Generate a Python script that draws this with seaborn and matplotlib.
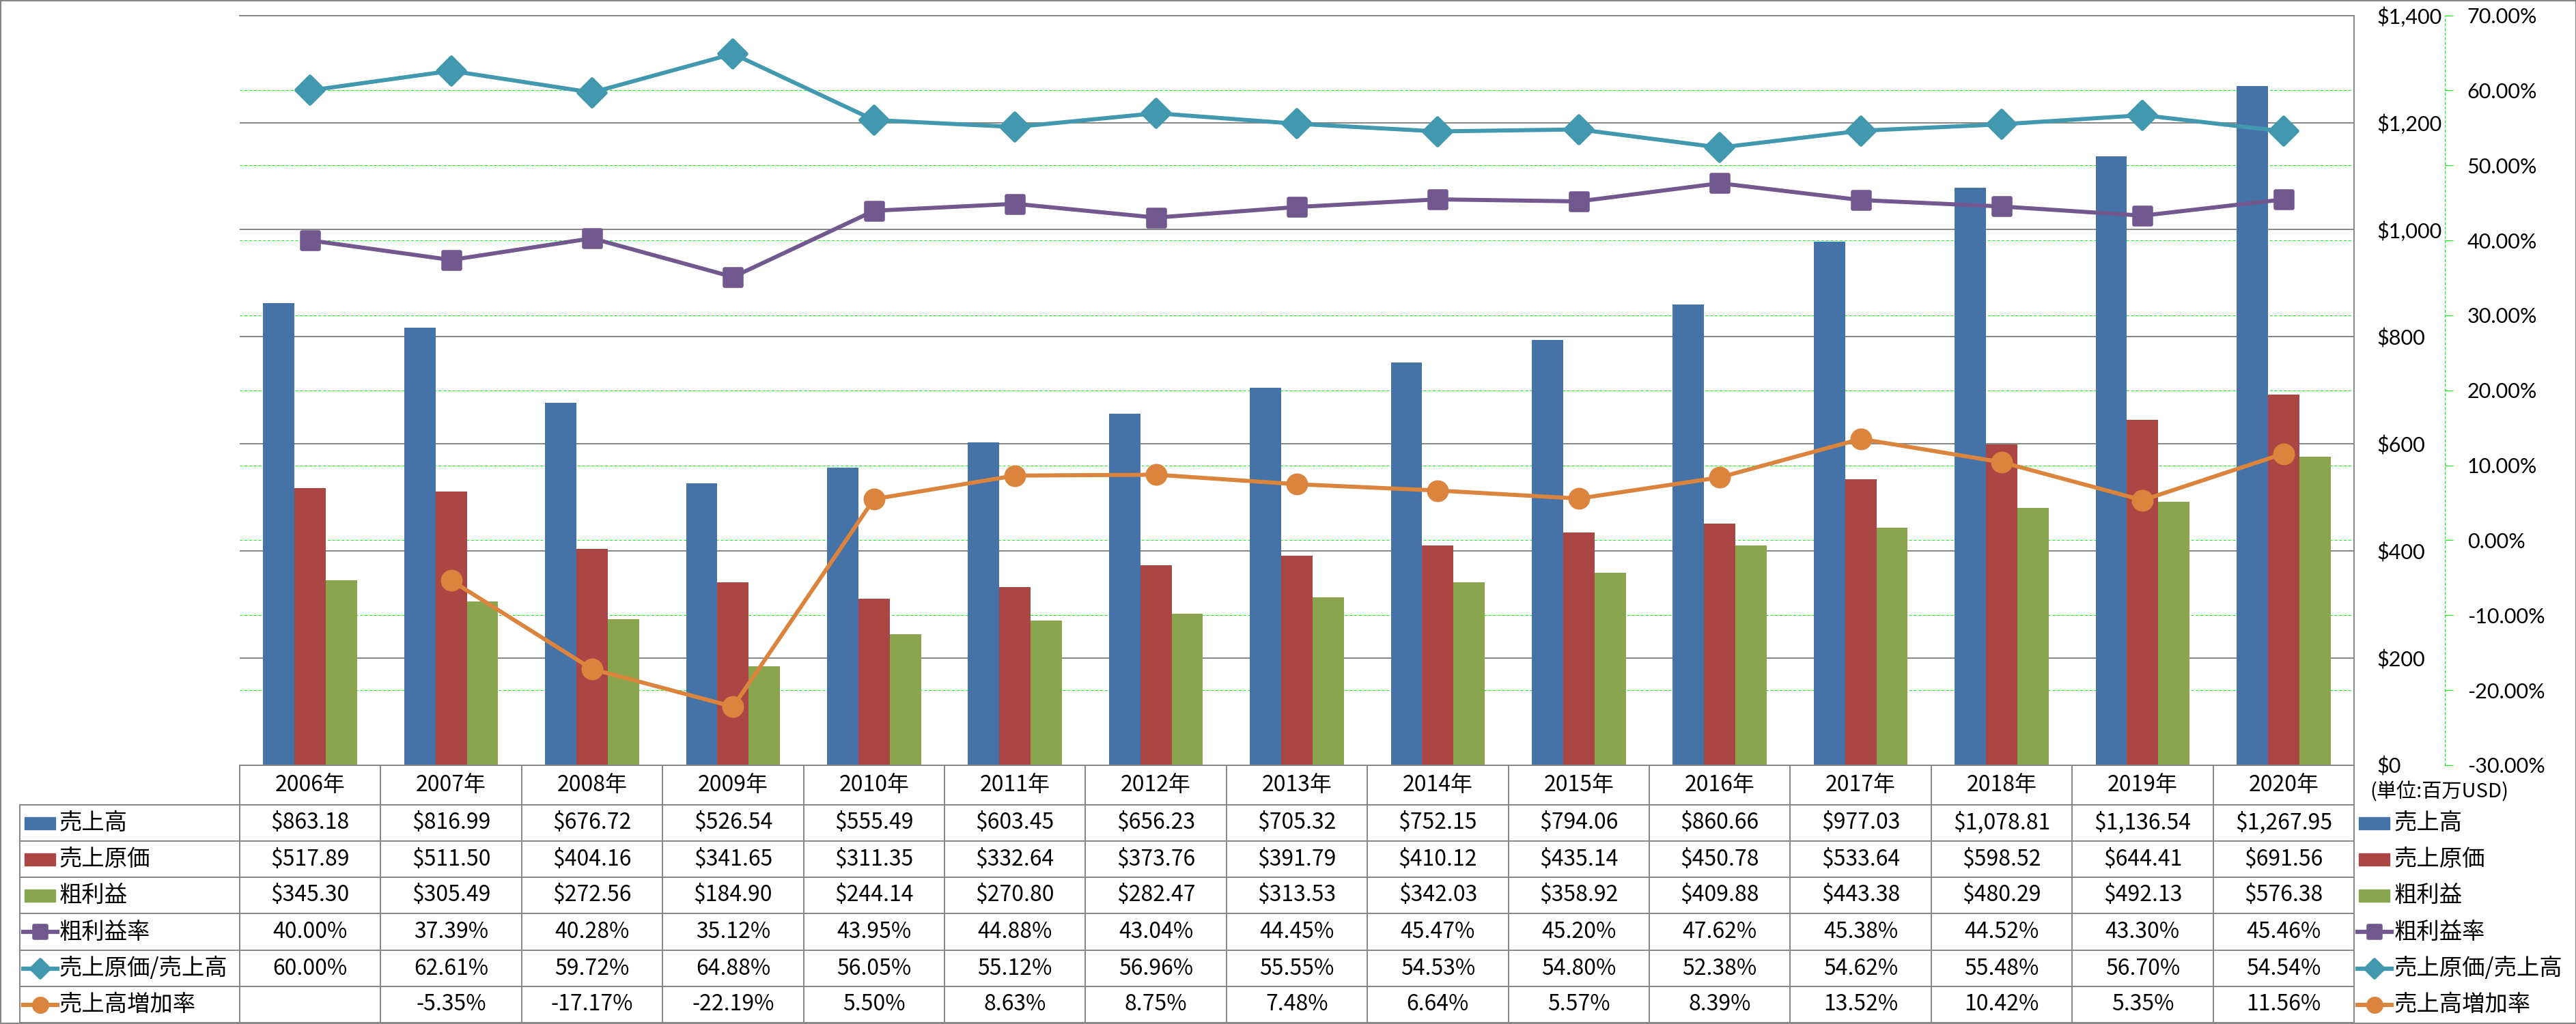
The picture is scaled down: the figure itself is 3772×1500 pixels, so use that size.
import numpy as np
import pandas as pd
import matplotlib
matplotlib.use('Agg')
import matplotlib.pyplot as plt
import matplotlib.transforms as mtransforms
from matplotlib.lines import Line2D
from matplotlib.patches import Rectangle
from matplotlib.markers import MarkerStyle
import seaborn as sns

# --- data (百万USD) ---
years = ['2006年', '2007年', '2008年', '2009年', '2010年', '2011年', '2012年', '2013年',
         '2014年', '2015年', '2016年', '2017年', '2018年', '2019年', '2020年']
sales = [863.18, 816.99, 676.72, 526.54, 555.49, 603.45, 656.23, 705.32,
         752.15, 794.06, 860.66, 977.03, 1078.81, 1136.54, 1267.95]
cost = [517.89, 511.50, 404.16, 341.65, 311.35, 332.64, 373.76, 391.79,
        410.12, 435.14, 450.78, 533.64, 598.52, 644.41, 691.56]
gross = [345.30, 305.49, 272.56, 184.90, 244.14, 270.80, 282.47, 313.53,
         342.03, 358.92, 409.88, 443.38, 480.29, 492.13, 576.38]
gross_margin = [40.00, 37.39, 40.28, 35.12, 43.95, 44.88, 43.04, 44.45,
                45.47, 45.20, 47.62, 45.38, 44.52, 43.30, 45.46]
cost_ratio = [60.00, 62.61, 59.72, 64.88, 56.05, 55.12, 56.96, 55.55,
              54.53, 54.80, 52.38, 54.62, 55.48, 56.70, 54.54]
growth = [np.nan, -5.35, -17.17, -22.19, 5.50, 8.63, 8.75, 7.48,
          6.64, 5.57, 8.39, 13.52, 10.42, 5.35, 11.56]

bar_names = ['売上高', '売上原価', '粗利益']
line_names = ['粗利益率', '売上原価/売上高', '売上高増加率']
bar_colors = ['#4572A7', '#AA4643', '#89A54E']
line_colors = ['#71588F', '#4198AF', '#DB843D']
line_markers = ['s', 'D', 'o']
dollar_ticks = [0, 200, 400, 600, 800, 1000, 1200, 1400]
pct_ticks = [-30, -20, -10, 0, 10, 20, 30, 40, 50, 60, 70]

plt.rcParams['font.family'] = ['Noto Sans CJK JP', 'DejaVu Sans']

W, H = 3773, 1500
GRAY = '#868686'
fig = plt.figure(figsize=(W / 100, H / 100), dpi=100)


def fx(x):
    return x / W


def fy(y):
    return 1 - y / H


LEFT, RIGHT, TOP, BOTTOM = 351, 3447, 22.6, 1121
ax = fig.add_axes([fx(LEFT), fy(BOTTOM), (RIGHT - LEFT) / W, (BOTTOM - TOP) / H])

df = pd.DataFrame({
    'year': years * 3,
    'series': np.repeat(bar_names, len(years)),
    'value': sales + cost + gross,
})
sns.barplot(data=df, x='year', y='value', hue='series', hue_order=bar_names,
            palette=bar_colors, saturation=1, width=0.667, errorbar=None,
            legend=False, ax=ax, zorder=2)

# --- secondary axis: ratios ---
ax2 = ax.twinx()
series_vals = [gross_margin, cost_ratio, growth]
x_idx = np.arange(len(years))
sizes = [18, 20.5, 22]
for vals, c, m, ms in zip(series_vals, line_colors, line_markers, sizes):
    mk = MarkerStyle(m, joinstyle='round') if m != 'o' else m
    sns.lineplot(x=x_idx, y=vals, ax=ax2, color=c, marker=mk, markersize=ms,
                 markeredgecolor=c, markeredgewidth=4 if m != 'o' else 1,
                 linewidth=4.3, legend=False, zorder=3)

ax.set_ylim(0, 1400)
ax.set_yticks(dollar_ticks, [f'${t:,}' for t in dollar_ticks])
ax.set_yticks(np.arange(0, 1401, 140), minor=True)
ax.yaxis.tick_right()
ax.tick_params(axis='y', which='both', length=0, pad=24, labelsize=22, labelfontfamily='Lato')
ax.tick_params(axis='x', length=0, labelbottom=False)
ax.set_xlabel('')
ax.set_ylabel('')
ax.set_axisbelow(True)
ax.grid(which='major', axis='y', color=GRAY, lw=1.4)
ax.grid(which='minor', axis='y', color='#00FF00', lw=0.75, ls=(0, (3.5, 3)))
ax.spines['left'].set_visible(False)
for s in ['top', 'bottom', 'right']:
    ax.spines[s].set_color(GRAY)
    ax.spines[s].set_linewidth(1.4)

ax2.set_ylim(-30, 70)
ax2.set_yticks(pct_ticks, [f'{t:.2f}%' for t in pct_ticks])
ax2.tick_params(axis='y', length=8.6, width=0.75, color='#00FF00', pad=15,
                labelsize=22, labelfontfamily='Lato')
for t, lab in zip(pct_ticks, ax2.get_yticklabels()):
    lab.set_color('red' if t < 0 else 'black')
ax2.set_xlabel('')
ax2.set_ylabel('')
for s in ['left', 'top', 'bottom']:
    ax2.spines[s].set_visible(False)
ax2.spines['right'].set_position(('axes', (3580 - LEFT) / (RIGHT - LEFT)))
ax2.spines['right'].set_color('#00FF00')
ax2.spines['right'].set_linestyle((0, (3.5, 3)))
ax2.spines['right'].set_linewidth(0.75)
ax.set_xlim(-0.5, len(years) - 0.5)

# --- data table under the chart ---
blend = mtransforms.blended_transform_factory(ax.transData, fig.transFigure)
row_edges = [1179, 1232, 1285, 1338, 1392, 1445, 1498]
row_centers = [(a + b) / 2 for a, b in zip(row_edges[:-1], row_edges[1:])]
header_y = (BOTTOM + row_edges[0]) / 2

for i in range(len(years) + 1):
    fig.add_artist(Line2D([i - 0.5, i - 0.5], [fy(BOTTOM), fy(1498)], transform=blend,
                          color=GRAY, lw=1.4))
for y in row_edges:
    fig.add_artist(Line2D([fx(29), fx(RIGHT)], [fy(y), fy(y)], transform=fig.transFigure,
                          color=GRAY, lw=1.4))
fig.add_artist(Line2D([fx(29), fx(29)], [fy(row_edges[0]), fy(1498)], transform=fig.transFigure,
                      color=GRAY, lw=1.4))

for i, yr in enumerate(years):
    fig.text(i, fy(header_y), yr, transform=blend, ha='center', va='center', fontsize=23)

rows_text = [
    [f'${v:,.2f}' for v in sales],
    [f'${v:,.2f}' for v in cost],
    [f'${v:,.2f}' for v in gross],
    [f'{v:.2f}%' for v in gross_margin],
    [f'{v:.2f}%' for v in cost_ratio],
    ['' if np.isnan(v) else f'{v:.2f}%' for v in growth],
]
for yc, texts in zip(row_centers, rows_text):
    for i, t in enumerate(texts):
        fig.text(i, fy(yc), t, transform=blend, ha='center', va='center', fontsize=23)


def draw_key(x0, yc, kind, color, marker=None):
    if kind == 'bar':
        fig.add_artist(Rectangle((fx(x0), fy(yc + 9)), 45 / W, 18 / H,
                                 transform=fig.transFigure, color=color))
    else:
        fig.add_artist(Line2D([fx(x0 - 2), fx(x0 + 48)], [fy(yc), fy(yc)],
                              transform=fig.transFigure, color=color, lw=4.5))
        mk = MarkerStyle(marker, joinstyle='round') if marker != 'o' else marker
        fig.add_artist(Line2D([fx(x0 + 23)], [fy(yc)], transform=fig.transFigure,
                              marker=mk, ms=13 if marker != 'o' else 17, color=color,
                              mec=color, mew=4 if marker != 'o' else 1))


all_names = bar_names + line_names
kinds = ['bar'] * 3 + ['line'] * 3
all_colors = bar_colors + line_colors
all_markers = [None] * 3 + line_markers
for yc, name, kind, c, m in zip(row_centers, all_names, kinds, all_colors, all_markers):
    draw_key(36, yc, kind, c, m)
    fig.text(fx(87), fy(yc), name, ha='left', va='center', fontsize=24)
    draw_key(3454, yc, kind, c, m)
    fig.text(fx(3506), fy(yc), name, ha='left', va='center', fontsize=24)

fig.text(fx(3470), fy(1160), '(単位:百万USD)', ha='left', va='center', fontsize=21)

fig.add_artist(Rectangle((0, 0), 1, 1, transform=fig.transFigure, fill=False,
                         edgecolor=GRAY, lw=3))

fig.savefig('out.png', dpi=100)
